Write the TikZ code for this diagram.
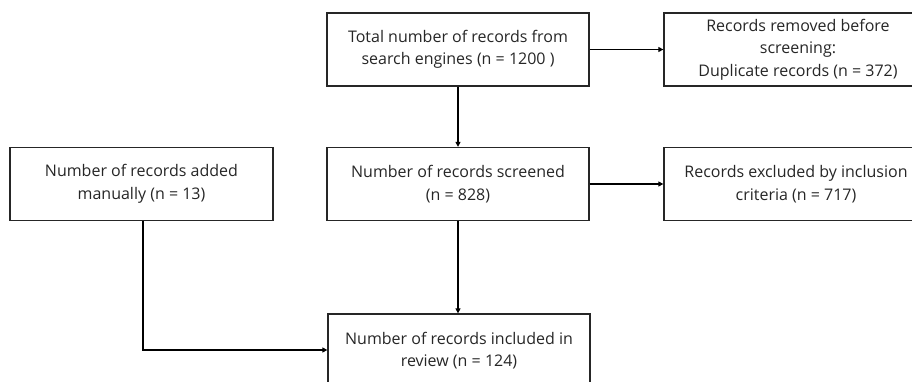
\documentclass[tikz,border=0pt]{standalone}
\usepackage{fontspec}
\setmainfont{Open Sans}
\usetikzlibrary{arrows.meta}
\begin{document}
\begin{tikzpicture}[x=1pt,y=-1pt,
  flowbox/.style={draw=black!85, line width=1.3pt, minimum height=73pt,
    align=center, font=\fontsize{16}{22.5}\selectfont, inner sep=0pt, text=black!85},
  link/.style={line width=1.6pt, -{Triangle[length=5pt,width=5pt]}}]
\useasboundingbox (0,0) rectangle (912,381);
\clip (0,0) rectangle (912,381);
\node[flowbox, minimum width=262pt] (total) at (458,49.5)
  {Total number of records from\\search engines (n = 1200 )};
\node[flowbox, minimum width=268pt] (removed) at (798,49.5)
  {Records removed before\\screening:\\Duplicate records (n = 372)};
\node[flowbox, minimum width=263pt] (manual) at (141.5,184)
  {Number of records added\\manually (n = 13)};
\node[flowbox, minimum width=262pt] (screened) at (458,184)
  {Number of records screened\\(n = 828)};
\node[flowbox, minimum width=264pt] (excluded) at (796,184)
  {Records excluded by inclusion\\criteria (n = 717)};
\node[flowbox, minimum width=262pt] (included) at (459,350.5)
  {Number of records included in\\review (n = 124)};
\draw[link] (total.east) -- (removed.west);
\draw[link] (screened.east) -- (excluded.west);
\draw[link] (total.south) -- (screened.north);
\draw[link] (screened.south) -- (screened.south |- included.north);
\coordinate (corner) at (143,350);
\draw[link] (manual.south -| corner) -- (corner) -- (included.west |- corner);
\end{tikzpicture}
\end{document}
